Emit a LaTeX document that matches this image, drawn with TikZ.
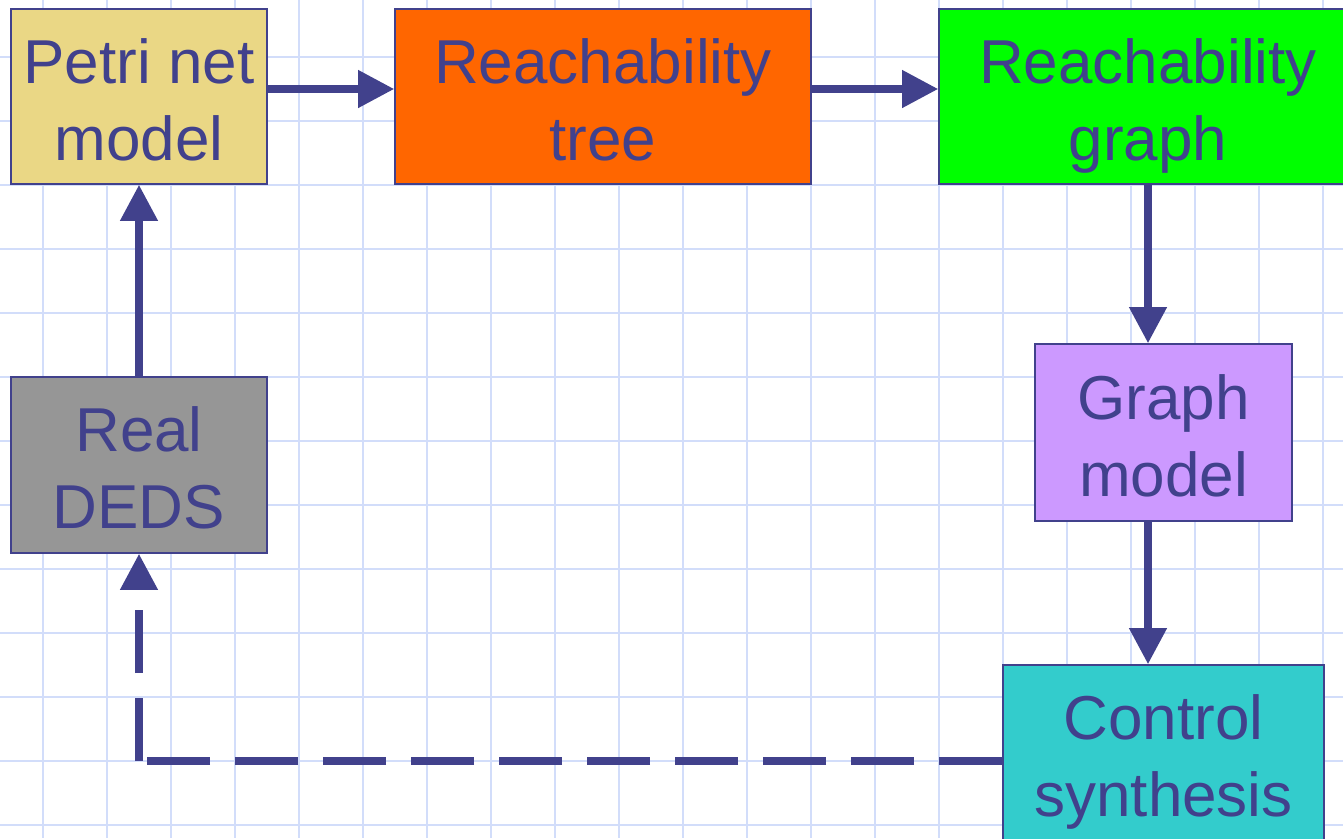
\documentclass[tikz,border=0pt]{standalone}
\usepackage{fontspec}
\setmainfont{Liberation Sans}
\usetikzlibrary{arrows.meta}
\definecolor{ink}{RGB}{65,65,140}
\definecolor{gridc}{RGB}{210,221,250}
\definecolor{petric}{RGB}{234,215,133}
\definecolor{treec}{RGB}{255,102,0}
\definecolor{graphc}{RGB}{0,255,0}
\definecolor{modelc}{RGB}{204,153,255}
\definecolor{ctrlc}{RGB}{51,204,204}
\definecolor{dedsc}{RGB}{150,150,150}
\tikzset{
  box/.style={draw=ink, line width=1.6pt, inner sep=0pt, align=center,
    text=ink, font=\fontsize{62}{77}\selectfont, text height=128pt, text depth=1pt},
  flow/.style={draw=ink, line width=7.3pt, -{Triangle[length=36pt,width=36pt]}},
  feedback/.style={draw=ink, line width=7.3pt, dash pattern=on 63pt off 25pt},
}
\begin{document}
\begin{tikzpicture}[x=1pt,y=-1pt]
\useasboundingbox (0,0) rectangle (1343,838);
\clip (0,0) rectangle (1343,838);
\fill[white] (0,0) rectangle (1343,838);
\foreach \i in {0,...,20} {
  \draw[gridc, line width=2pt] ({43+64*\i},0) -- ({43+64*\i},838);
}
\foreach \j in {0,...,12} {
  \draw[gridc, line width=2pt] (0,{57+64*\j}) -- (1343,{57+64*\j});
}
\node[box, fill=petric, minimum width=256pt, minimum height=175pt] (petri) at (139,96.5) {Petri net\\model};
\node[box, fill=treec, minimum width=416pt, minimum height=175pt] (tree) at (603,96.5) {Reachability\\tree};
\node[box, fill=graphc, minimum width=418pt, minimum height=175pt] (graph) at (1148,96.5) {Reachability\\graph};
\node[box, fill=modelc, minimum width=257pt, minimum height=177pt] (gmodel) at (1163.5,432.5) {Graph\\model};
\node[box, fill=ctrlc, minimum width=321pt, minimum height=175pt] (ctrl) at (1163.5,752.5) {Control\\synthesis};
\node[box, fill=dedsc, minimum width=256pt, minimum height=176pt] (deds) at (139,465) {Real\\DEDS};
\coordinate (row) at (0,89);
\coordinate (col) at (1148,0);
\coordinate (corner) at (139,761);
\draw[flow] (petri.east |- row) -- (tree.west |- row);
\draw[flow] (tree.east |- row) -- (graph.west |- row);
\draw[flow] (deds.north) -- (petri.south);
\draw[flow] (graph.south -| col) -- (gmodel.north -| col);
\draw[flow] (gmodel.south -| col) -- (ctrl.north -| col);
\draw[feedback] (ctrl.west |- corner) -- (corner);
\draw[feedback, -{Triangle[length=36pt,width=36pt]}] (corner) -- (deds.south);
\end{tikzpicture}
\end{document}
